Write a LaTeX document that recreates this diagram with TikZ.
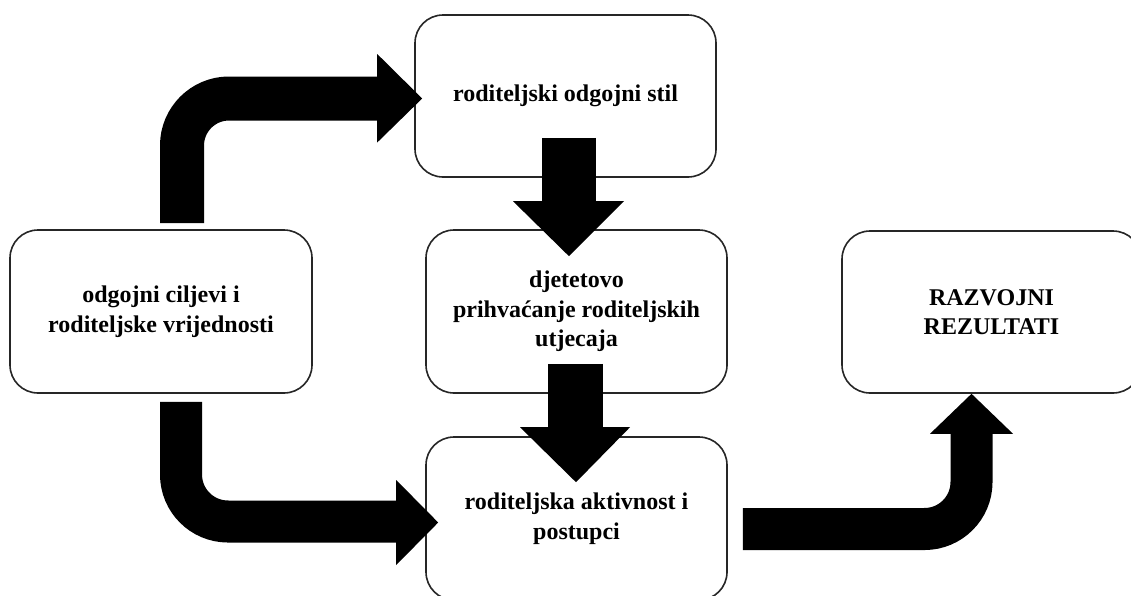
\documentclass[tikz,border=0pt]{standalone}
\usepackage{fontspec}
\setmainfont{Liberation Serif}
\usetikzlibrary{calc}
\begin{document}
\begin{tikzpicture}[x=1pt,y=-1pt,
  box/.style={draw=black!85, line width=1.6pt, rounded corners=28pt, fill=white,
    align=center, inner sep=0pt, font=\bfseries\fontsize{24}{29.5}\selectfont},
  shaft/.style={draw=black, line cap=butt, rounded corners=47pt},
  head/.style={fill=black}]
\useasboundingbox (0,0) rectangle (1131,595);
\clip (0,0) rectangle (1131,595);
\fill[white] (0,0) rectangle (1131,595);
% boxes
\node[box, minimum width=302pt, minimum height=163pt] (L) at (161,311.5)
  {odgojni ciljevi i\\roditeljske vrijednosti};
\node[box, minimum width=301pt, minimum height=162pt] (T) at (565.5,96)
  {roditeljski odgojni stil};
\node[box, minimum width=301pt, minimum height=163pt] (M) at (576.5,311.5)
  {djetetovo\\prihva\'canje roditeljskih\\utjecaja};
\node[box, minimum width=301pt, minimum height=163pt] (B) at (576.5,518.5)
  {roditeljska aktivnost i\\postupci};
\node[box, minimum width=299pt, minimum height=162pt] (R) at (991.5,312)
  {RAZVOJNI\\REZULTATI};
% arrow L -> T
\coordinate (aS) at ($(L.north)+(21,-6)$);
\coordinate (aT) at ($(T.west)+(8,2.5)$);
\draw[shaft, line width=44pt] (aS) |- ($(aT)+(-44,0)$);
\fill[head] ($(aT)+(-45,-44.5)$) -- (aT) -- ($(aT)+(-45,44)$) -- cycle;
% arrow L -> B
\coordinate (bS) at ($(L.south)+(20,8)$);
\coordinate (bT) at ($(B.west)+(13,4)$);
\draw[shaft, line width=42pt] (bS) |- ($(bT)+(-41,-1)$);
\fill[head] ($(bT)+(-42,-42.5)$) -- (bT) -- ($(bT)+(-42,42.5)$) -- cycle;
% arrow T -> M
\coordinate (cS) at ($(T.south)+(3.5,-40)$);
\coordinate (cT) at ($(M.north)+(-7.5,27)$);
\draw[shaft, line width=54pt] (cS) -- ($(cT)+(0,-54)$);
\fill[head] ($(cT)+(-56,-55)$) -- (cT) -- ($(cT)+(55,-55)$) -- cycle;
% arrow M -> B
\coordinate (dS) at ($(M.south)+(-1,-30)$);
\coordinate (dT) at ($(B.north)+(-0.5,46)$);
\draw[shaft, line width=55pt] (dS) -- ($(dT)+(-0.5,-54)$);
\fill[head] ($(dT)+(-56,-55)$) -- (dT) -- ($(dT)+(54,-55)$) -- cycle;
% arrow B -> R
\coordinate (eS) at ($(B.east)+(15,10.5)$);
\coordinate (eT) at ($(R.south)+(-20,0)$);
\draw[shaft, line width=42pt] (eS) -| ($(eT)+(0,39)$);
\fill[head] ($(eT)+(-41.5,40)$) -- (eT) -- ($(eT)+(41.5,40)$) -- cycle;
\end{tikzpicture}
\end{document}
